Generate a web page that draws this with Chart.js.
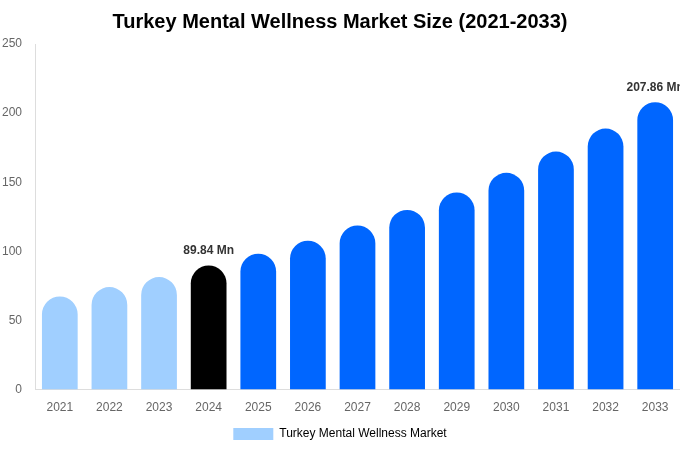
<!DOCTYPE html>
<html>
<head>
<meta charset="utf-8">
<script src="https://cdn.jsdelivr.net/npm/chart.js@4"></script>
<style>
  html, body { margin: 0; padding: 0; background: #fff; }
  #wrap { width: 680px; height: 450px; }
</style>
</head>
<body>
<div id="wrap"><canvas id="marketChart"></canvas></div>
<script>
// chart data
const years = ['2021', '2022', '2023', '2024', '2025', '2026', '2027', '2028', '2029', '2030', '2031', '2032', '2033'];
const marketSize = [67.4, 74.2, 81.4, 89.84, 98.3, 107.7, 118.7, 130.0, 142.6, 156.8, 172.2, 188.8, 207.86];
const yTicks = [0, 50, 100, 150, 200, 250];
const labelledYears = ['2024', '2033'];

const pastColor = '#a0cfff';
const baseColor = '#000000';
const forecastColor = '#0066ff';

const barColors = years.map(y => {
    if (y < '2024') return pastColor;
    if (y === '2024') return baseColor;
    return forecastColor;
});

Chart.defaults.font.family = 'Liberation Sans, Arial, sans-serif';
Chart.defaults.color = '#666';

// writes "xx.xx Mn" above the chosen bars
const valueLabels = {
    id: 'valueLabels',
    afterDatasetsDraw(chart) {
        const ctx = chart.ctx;
        const meta = chart.getDatasetMeta(0);
        ctx.save();
        ctx.font = 'bold 12px Liberation Sans, Arial, sans-serif';
        ctx.fillStyle = '#333';
        ctx.textAlign = 'center';
        ctx.textBaseline = 'bottom';
        meta.data.forEach((bar, i) => {
            if (!labelledYears.includes(years[i])) return;
            ctx.fillText(marketSize[i].toFixed(2) + ' Mn', bar.x, bar.y - 9);
        });
        ctx.restore();
    }
};

new Chart(document.getElementById('marketChart'), {
    type: 'bar',
    data: {
        labels: years,
        datasets: [{
            label: 'Turkey Mental Wellness Market',
            data: marketSize,
            backgroundColor: barColors,
            borderRadius: 18,
            borderSkipped: 'bottom'
        }]
    },
    options: {
        responsive: true,
        maintainAspectRatio: false,
        animation: false,
        layout: { padding: 0 },
        plugins: {
            title: {
                display: true,
                text: 'Turkey Mental Wellness Market Size (2021-2033)',
                color: '#000',
                font: { size: 20, weight: 'bold' },
                padding: { top: 10, bottom: 10 }
            },
            legend: {
                position: 'bottom',
                labels: {
                    boxWidth: 40,
                    boxHeight: 12,
                    color: '#666',
                    font: { size: 12 },
                    generateLabels() {
                        return [{
                            text: 'Turkey Mental Wellness Market',
                            fillStyle: pastColor,
                            strokeStyle: pastColor,
                            lineWidth: 0,
                            datasetIndex: 0
                        }];
                    }
                }
            },
            tooltip: { enabled: false }
        },
        scales: {
            x: {
                afterFit(axis) {
                    axis.height -= 8;
                },
                grid: { display: false, drawTicks: false },
                border: { display: true, color: '#ddd' },
                ticks: { font: { size: 12 }, padding: 11 }
            },
            y: {
                min: 0,
                max: 250,
                afterBuildTicks(axis) {
                    axis.ticks = yTicks.map(v => ({ value: v }));
                },
                afterFit(axis) {
                    axis.width = 35;
                },
                grid: { display: false, drawTicks: false },
                border: { display: true, color: '#ddd' },
                ticks: { font: { size: 12 }, padding: 13 }
            }
        }
    },
    plugins: [valueLabels]
});
</script>
</body>
</html>
